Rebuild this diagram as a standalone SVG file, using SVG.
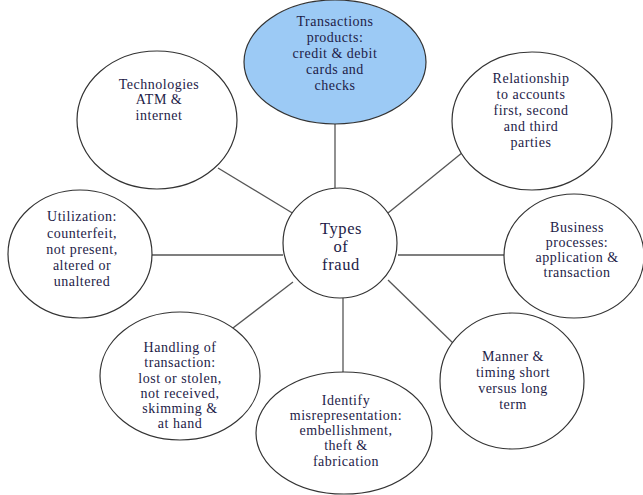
<svg xmlns="http://www.w3.org/2000/svg" width="643" height="495" viewBox="0 0 643 495" font-family="'Liberation Serif', 'DejaVu Serif', serif">
<style>
.n{fill:#fff;stroke:#333;stroke-width:1.2}
.hl{fill:#9ccaf5}
.c line{stroke:#555;stroke-width:1.3}
text{font-family:'Liberation Serif','DejaVu Serif',serif;font-size:14px;letter-spacing:0.5px;fill:#1e1c48;text-anchor:middle}
.big{font-size:16.5px;letter-spacing:0.6px}
</style>
<rect width="643" height="495" fill="#fff"/>
<g id="connectors" class="c">
<line x1="335" y1="124" x2="335" y2="188"/>
<line x1="218" y1="168" x2="294" y2="214"/>
<line x1="468" y1="148" x2="388" y2="213"/>
<line x1="152" y1="255" x2="283" y2="255"/>
<line x1="398" y1="255" x2="504" y2="255"/>
<line x1="229" y1="331" x2="293" y2="282"/>
<line x1="343" y1="298" x2="343" y2="372"/>
<line x1="388" y1="280" x2="455" y2="345"/>
</g>
<g id="n-transactions">
<ellipse class="n hl" cx="335" cy="62" rx="91" ry="62"/>
<text x="335" y="26">Transactions</text>
<text x="335" y="42">products:</text>
<text x="335" y="58">credit &amp; debit</text>
<text x="335" y="74">cards and</text>
<text x="335" y="90">checks</text>
</g>
<g id="n-technologies">
<ellipse class="n" cx="157" cy="120" rx="80" ry="69"/>
<text x="159" y="89">Technologies</text>
<text x="159" y="104">ATM &amp;</text>
<text x="159" y="120">internet</text>
</g>
<g id="n-relationship">
<ellipse class="n" cx="532" cy="121" rx="80" ry="69"/>
<text x="531" y="83">Relationship</text>
<text x="531" y="99">to accounts</text>
<text x="531" y="115">first, second</text>
<text x="531" y="131">and third</text>
<text x="531" y="147">parties</text>
</g>
<g id="n-utilization">
<ellipse class="n" cx="80" cy="254" rx="72" ry="64"/>
<text x="82" y="221">Utilization:</text>
<text x="82" y="238">counterfeit,</text>
<text x="82" y="254">not present,</text>
<text x="82" y="270">altered or</text>
<text x="82" y="286">unaltered</text>
</g>
<g id="n-center">
<ellipse class="n" cx="340" cy="243" rx="57" ry="55"/>
<text class="big" x="341" y="234">Types</text>
<text class="big" x="341" y="252">of</text>
<text class="big" x="341" y="270">fraud</text>
</g>
<g id="n-business">
<ellipse class="n" cx="574" cy="256" rx="70" ry="62"/>
<text x="577" y="232">Business</text>
<text x="577" y="247">processes:</text>
<text x="577" y="262">application &amp;</text>
<text x="577" y="277">transaction</text>
</g>
<g id="n-handling">
<ellipse class="n" cx="180" cy="376" rx="80" ry="64"/>
<text x="180" y="352">Handling of</text>
<text x="180" y="367">transaction:</text>
<text x="180" y="383">lost or stolen,</text>
<text x="180" y="398">not received,</text>
<text x="180" y="413">skimming &amp;</text>
<text x="180" y="428">at hand</text>
</g>
<g id="n-identify">
<ellipse class="n" cx="344" cy="433" rx="88" ry="61"/>
<text x="346" y="405">Identify</text>
<text x="346" y="420">misrepresentation:</text>
<text x="346" y="435">embellishment,</text>
<text x="346" y="450">theft &amp;</text>
<text x="346" y="466">fabrication</text>
</g>
<g id="n-manner">
<ellipse class="n" cx="512" cy="381" rx="72" ry="68"/>
<text x="513" y="361">Manner &amp;</text>
<text x="513" y="377">timing short</text>
<text x="513" y="393">versus long</text>
<text x="513" y="409">term</text>
</g>
</svg>
